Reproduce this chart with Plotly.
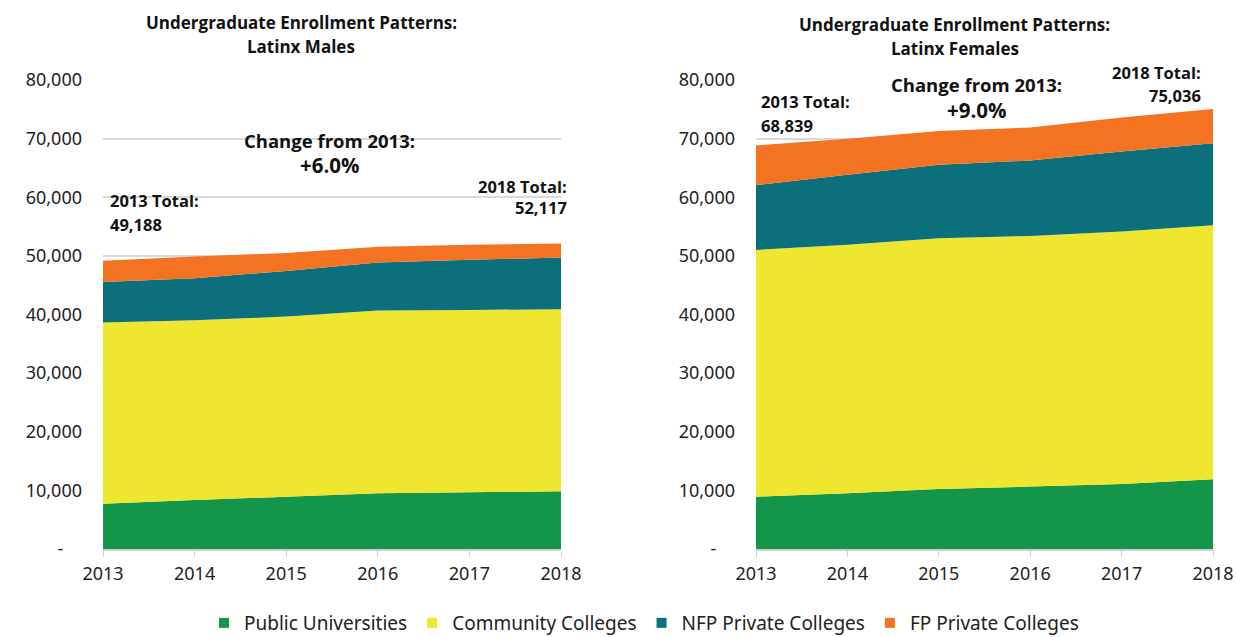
import plotly.graph_objects as go

years = [2013, 2014, 2015, 2016, 2017, 2018]
series_names = ["Public Universities", "Community Colleges", "NFP Private Colleges", "FP Private Colleges"]
colors = ["#13964A", "#EFE62F", "#0B6F7C", "#F37322"]

male_public = [7700, 8350, 8920, 9500, 9670, 9840]
male_community = [30920, 30670, 30720, 31170, 31110, 31060]
male_nfp = [6940, 7170, 7800, 8190, 8540, 8810]
male_fp = [3628, 3700, 3070, 2680, 2560, 2407]

female_public = [8930, 9500, 10240, 10640, 11090, 11890]
female_community = [42090, 42380, 42780, 42770, 43060, 43350]
female_nfp = [11050, 11960, 12510, 12860, 13650, 13990]
female_fp = [6769, 6160, 5770, 5630, 5800, 5806]

ytick_vals = [0, 10000, 20000, 30000, 40000, 50000, 60000, 70000, 80000]
ytick_text = ["-" + "\u00a0" * 4, "10,000", "20,000", "30,000", "40,000", "50,000", "60,000", "70,000", "80,000"]

W, H = 1237, 637


def px(x):
    return x / W


def py(y):
    return 1 - y / H


fig = go.Figure()
male = [male_public, male_community, male_nfp, male_fp]
female = [female_public, female_community, female_nfp, female_fp]
for i, name in enumerate(series_names):
    fig.add_trace(go.Scatter(x=years, y=male[i], name=name, stackgroup="m",
                             mode="none", fillcolor=colors[i], line=dict(width=0),
                             xaxis="x", yaxis="y", showlegend=False))
for i, name in enumerate(series_names):
    fig.add_trace(go.Scatter(x=years, y=female[i], name=name, stackgroup="f",
                             mode="none", fillcolor=colors[i], line=dict(width=0),
                             xaxis="x2", yaxis="y2", showlegend=False))
# legend entries with square swatches
for i, name in enumerate(series_names):
    fig.add_trace(go.Scatter(x=[None], y=[None], name=name, mode="markers",
                             marker=dict(symbol="square", size=10, color=colors[i]),
                             xaxis="x", yaxis="y", showlegend=True))

tickfont = dict(family="Noto Sans", size=18, color="#222222")
ydom = [py(549), py(80)]
common_x = dict(tickmode="array", tickvals=years, ticktext=[str(y) for y in years],
                range=[2013, 2018], showgrid=False, showline=True, linecolor="#D0D0D0",
                linewidth=1.5, ticks="outside", ticklen=6, tickcolor="#D0D0D0",
                tickfont=tickfont, zeroline=False, fixedrange=True, ticklabelstandoff=2)
common_y = dict(tickmode="array", tickvals=ytick_vals, ticktext=ytick_text, range=[0, 80000],
                showgrid=True, gridcolor="#D9D9D9", gridwidth=1.5, zeroline=False,
                showline=False, tickfont=tickfont, ticks="", ticklabelstandoff=20,
                domain=ydom, fixedrange=True)

fig.update_layout(
    width=W, height=H,
    margin=dict(l=0, r=0, t=0, b=0, autoexpand=False),
    paper_bgcolor="white", plot_bgcolor="white",
    xaxis=dict(domain=[px(103), px(561)], anchor="y", **common_x),
    yaxis=dict(anchor="x", **common_y),
    xaxis2=dict(domain=[px(756), px(1213)], anchor="y2", **common_x),
    yaxis2=dict(anchor="x2", **common_y),
    showlegend=True,
    legend=dict(orientation="h", x=px(644), xanchor="center", y=py(623), yanchor="middle",
                font=dict(family="Noto Sans", size=19, color="#222222"),
                traceorder="normal", itemwidth=30, bgcolor="rgba(0,0,0,0)"),
)

ann = []


def add(text, x, y, xanchor="center", size=16):
    ann.append(dict(text=text, x=px(x), y=py(y), xref="paper", yref="paper",
                    xanchor=xanchor, yanchor="middle", showarrow=False,
                    font=dict(family="Open Sans", size=size, color="#111111")))


add("<b>Undergraduate Enrollment Patterns:</b>", 301, 22, size=17)
add("<b>Latinx Males</b>", 301, 46, size=17)
add("<b>Undergraduate Enrollment Patterns:</b>", 955, 24, size=17)
add("<b>Latinx Females</b>", 955, 48, size=17)

add("<b>Change from 2013:</b>", 329, 140, size=18.5)
add("<b>+6.0%</b>", 329, 165, size=20.5)
add("<b>Change from 2013:</b>", 976, 85, size=18.5)
add("<b>+9.0%</b>", 976, 110, size=20.5)

add("<b>2013 Total:</b>", 108, 201, xanchor="left", size=16.5)
add("<b>49,188</b>", 108, 224, xanchor="left", size=16.5)
add("<b>2018 Total:</b>", 569, 186, xanchor="right", size=16.5)
add("<b>52,117</b>", 569, 208, xanchor="right", size=16.5)

add("<b>2013 Total:</b>", 759, 102, xanchor="left", size=16.5)
add("<b>68,839</b>", 759, 125, xanchor="left", size=16.5)
add("<b>2018 Total:</b>", 1203, 73, xanchor="right", size=16.5)
add("<b>75,036</b>", 1203, 96, xanchor="right", size=16.5)

fig.update_layout(annotations=ann)
fig.write_html("out.html", config={"displayModeBar": False},
               post_script="document.body.style.margin='0';document.body.style.overflow='hidden';")
